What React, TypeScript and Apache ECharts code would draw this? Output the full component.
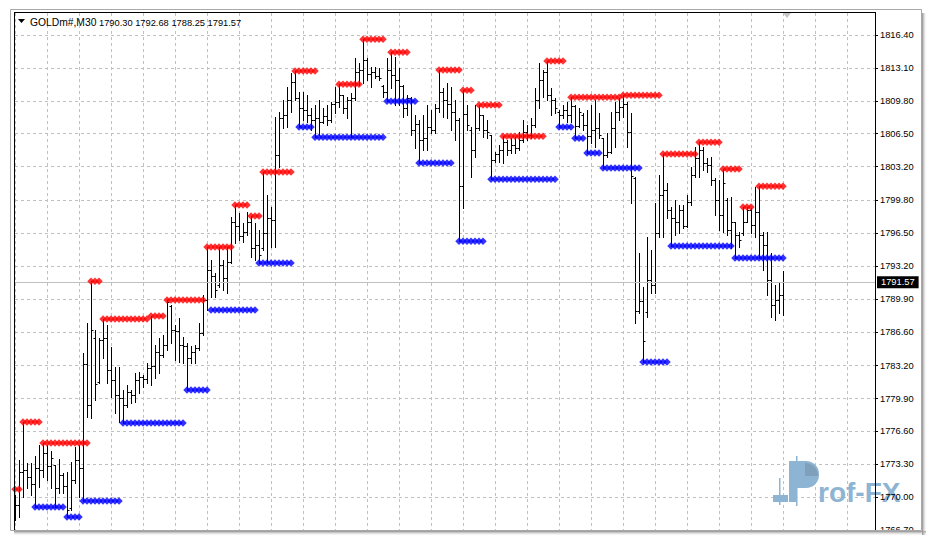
import React, { useEffect, useRef } from 'react';
import * as echarts from 'echarts';

const SYMBOL = 'GOLDm#,M30';

const OPEN = [
  1768.71, 1769.21, 1772.53, 1772.73, 1772.01, 1771.31, 1772.93, 1772.73, 1774.43, 1773.13,
  1773.23, 1770.91, 1772.21, 1771.11, 1768.91, 1771.71, 1773.73, 1772.93, 1783.37, 1779.25,
  1785.97, 1781.55, 1785.77, 1785.97, 1782.77, 1781.75, 1780.25, 1779.95, 1779.25, 1780.55,
  1780.25, 1781.75, 1782.05, 1781.85, 1782.97, 1783.17, 1784.57, 1784.27, 1785.27, 1789.19,
  1786.77, 1786.67, 1785.27, 1785.17, 1783.97, 1784.57, 1784.97, 1786.47, 1789.79, 1792.81,
  1792.19, 1791.29, 1793.31, 1792.01, 1793.61, 1797.63, 1797.21, 1796.21, 1796.61, 1797.63,
  1795.01, 1795.31, 1795.01, 1796.51, 1798.03, 1797.83, 1804.35, 1808.07, 1808.37, 1809.87,
  1811.69, 1810.07, 1809.07, 1808.87, 1808.37, 1807.87, 1808.07, 1807.67, 1808.27, 1807.87,
  1809.47, 1809.67, 1810.37, 1809.07, 1809.87, 1810.07, 1812.69, 1812.89, 1813.89, 1812.49,
  1812.69, 1812.27, 1811.27, 1810.67, 1812.89, 1812.37, 1811.87, 1811.27, 1809.07, 1810.07,
  1806.85, 1807.47, 1805.85, 1806.05, 1807.15, 1806.85, 1809.07, 1810.67, 1809.87, 1809.47,
  1808.67, 1807.87, 1801.23, 1808.47, 1806.85, 1804.85, 1807.05, 1808.37, 1806.85, 1806.35,
  1803.85, 1804.45, 1804.85, 1805.65, 1804.85, 1805.35, 1805.05, 1805.85, 1806.65, 1806.35,
  1807.35, 1809.87, 1811.87, 1812.69, 1810.37, 1809.87, 1808.67, 1808.37, 1808.87, 1808.37,
  1809.27, 1807.27, 1808.37, 1807.37, 1806.25, 1806.85, 1807.05, 1806.05, 1804.35, 1804.65,
  1807.05, 1808.67, 1809.17, 1809.47, 1806.65, 1802.03, 1788.69, 1789.69, 1788.59, 1791.81,
  1791.29, 1796.51, 1800.33, 1800.83, 1798.83, 1798.03, 1797.63, 1798.83, 1797.21, 1799.63,
  1802.33, 1804.05, 1804.85, 1803.55, 1803.35, 1801.83, 1799.83, 1798.33, 1799.83, 1796.81,
  1797.63, 1796.31, 1796.51, 1797.63, 1798.83, 1797.33, 1798.63, 1796.31, 1795.31, 1791.81,
  1789.29, 1789.79, 1790.30,
];

const HIGH = [
  1770.21, 1773.73, 1777.55, 1773.43, 1773.43, 1774.13, 1775.23, 1775.43, 1775.23, 1774.63,
  1773.23, 1773.83, 1772.43, 1772.53, 1773.53, 1775.03, 1775.23, 1784.47, 1787.49, 1791.69,
  1786.77, 1785.97, 1787.89, 1787.29, 1785.07, 1783.07, 1783.07, 1780.75, 1781.25, 1780.75,
  1782.47, 1782.57, 1782.25, 1783.47, 1788.19, 1785.27, 1785.97, 1786.27, 1789.79, 1789.29,
  1787.27, 1787.99, 1786.07, 1785.47, 1785.17, 1785.27, 1787.49, 1790.29, 1795.11, 1793.81,
  1792.51, 1795.11, 1793.81, 1795.11, 1798.13, 1799.33, 1798.53, 1797.53, 1798.63, 1798.23,
  1797.53, 1796.83, 1802.65, 1800.33, 1799.13, 1808.17, 1808.67, 1809.87, 1811.17, 1812.59,
  1812.79, 1810.67, 1810.67, 1810.37, 1809.07, 1809.37, 1809.87, 1809.07, 1809.37, 1809.67,
  1811.17, 1811.47, 1810.37, 1810.17, 1810.57, 1814.09, 1813.59, 1815.99, 1814.09, 1813.19,
  1813.19, 1813.09, 1811.37, 1814.09, 1814.69, 1814.19, 1813.09, 1811.37, 1810.37, 1810.17,
  1808.37, 1807.87, 1808.37, 1809.37, 1808.87, 1809.47, 1812.89, 1811.07, 1811.57, 1811.17,
  1809.87, 1808.07, 1810.87, 1809.37, 1807.15, 1809.37, 1809.37, 1808.37, 1807.87, 1806.35,
  1804.65, 1805.35, 1806.25, 1805.85, 1806.05, 1806.15, 1806.65, 1807.87, 1807.37, 1808.07,
  1811.07, 1813.59, 1812.89, 1813.79, 1811.07, 1810.07, 1808.87, 1809.37, 1809.67, 1810.17,
  1809.37, 1809.07, 1808.57, 1808.87, 1809.37, 1809.87, 1808.57, 1806.05, 1806.55, 1808.67,
  1809.67, 1810.07, 1810.37, 1809.67, 1808.57, 1802.13, 1794.51, 1791.09, 1796.11, 1794.81,
  1799.53, 1802.33, 1804.45, 1801.53, 1799.13, 1799.83, 1799.33, 1799.33, 1800.33, 1803.15,
  1805.15, 1805.65, 1805.15, 1804.05, 1804.15, 1802.03, 1801.83, 1802.95, 1800.03, 1800.13,
  1797.63, 1796.61, 1799.13, 1799.13, 1799.03, 1801.13, 1801.23, 1796.61, 1796.61, 1794.51,
  1791.29, 1791.49, 1792.68,
];

const LOW = [
  1767.71, 1768.01, 1770.01, 1770.91, 1770.21, 1769.01, 1771.01, 1772.01, 1771.71, 1770.91,
  1769.01, 1770.41, 1770.41, 1768.01, 1768.71, 1771.41, 1770.01, 1769.61, 1778.05, 1777.95,
  1779.75, 1781.45, 1783.97, 1781.45, 1780.05, 1778.45, 1777.55, 1777.45, 1779.05, 1779.45,
  1779.55, 1780.45, 1781.05, 1781.45, 1781.25, 1781.95, 1782.47, 1784.07, 1784.77, 1785.47,
  1783.77, 1783.57, 1783.47, 1780.75, 1783.47, 1783.47, 1784.77, 1786.27, 1788.79, 1790.09,
  1790.09, 1791.09, 1790.79, 1790.49, 1793.51, 1795.51, 1795.81, 1795.61, 1796.31, 1794.11,
  1793.81, 1793.51, 1794.81, 1793.61, 1795.11, 1795.11, 1803.15, 1807.07, 1807.17, 1808.67,
  1809.87, 1807.17, 1807.87, 1807.67, 1806.85, 1806.15, 1806.35, 1807.57, 1807.35, 1807.67,
  1808.57, 1809.17, 1808.57, 1808.07, 1806.15, 1809.87, 1811.37, 1811.57, 1811.87, 1811.17,
  1812.07, 1811.87, 1810.17, 1809.77, 1811.07, 1809.37, 1809.37, 1808.17, 1808.37, 1806.35,
  1805.05, 1803.55, 1804.85, 1804.85, 1806.55, 1806.55, 1808.67, 1808.17, 1808.07, 1806.85,
  1805.85, 1795.71, 1799.03, 1806.85, 1802.13, 1804.15, 1806.85, 1806.15, 1806.05, 1801.93,
  1803.65, 1803.65, 1803.55, 1804.35, 1804.55, 1804.55, 1804.85, 1805.65, 1805.85, 1806.05,
  1807.17, 1809.07, 1810.17, 1809.87, 1808.37, 1808.57, 1807.17, 1808.07, 1807.67, 1807.67,
  1806.05, 1807.17, 1806.85, 1804.55, 1805.55, 1805.15, 1806.05, 1803.05, 1804.15, 1804.55,
  1805.15, 1807.87, 1808.17, 1805.15, 1799.53, 1787.49, 1788.49, 1783.57, 1788.09, 1790.49,
  1790.49, 1796.11, 1796.11, 1798.03, 1795.21, 1796.31, 1796.51, 1797.01, 1797.11, 1799.33,
  1802.13, 1802.13, 1802.85, 1802.65, 1801.33, 1798.33, 1796.83, 1796.61, 1796.31, 1795.01,
  1794.01, 1795.11, 1796.31, 1797.63, 1796.51, 1796.11, 1794.01, 1792.81, 1790.29, 1788.09,
  1787.79, 1788.49, 1788.25,
];

const CLOSE = [
  1769.21, 1772.53, 1772.73, 1772.01, 1771.31, 1772.93, 1772.73, 1774.43, 1773.13, 1773.93,
  1770.91, 1772.21, 1771.11, 1768.71, 1771.71, 1773.73, 1772.93, 1783.37, 1779.25, 1786.77,
  1781.35, 1785.77, 1785.97, 1782.77, 1781.75, 1780.25, 1779.95, 1779.25, 1780.55, 1780.25,
  1781.75, 1782.05, 1781.85, 1782.97, 1783.17, 1784.57, 1784.27, 1785.27, 1789.59, 1786.77,
  1786.67, 1785.27, 1785.17, 1783.97, 1784.57, 1784.97, 1786.47, 1789.79, 1792.81, 1792.19,
  1790.79, 1793.31, 1792.01, 1793.61, 1797.63, 1797.21, 1796.21, 1796.61, 1797.63, 1795.01,
  1795.31, 1794.31, 1796.51, 1798.03, 1797.83, 1804.35, 1808.07, 1808.37, 1809.87, 1811.69,
  1810.07, 1809.07, 1808.87, 1808.37, 1807.87, 1808.07, 1807.67, 1808.27, 1807.87, 1809.47,
  1809.67, 1810.37, 1809.07, 1809.87, 1810.07, 1812.69, 1812.89, 1813.89, 1812.49, 1812.69,
  1812.27, 1812.07, 1810.67, 1812.89, 1812.37, 1811.87, 1811.27, 1809.07, 1810.07, 1806.85,
  1807.47, 1805.85, 1806.05, 1807.15, 1806.85, 1809.07, 1810.67, 1809.87, 1809.47, 1808.67,
  1807.87, 1801.23, 1808.47, 1807.37, 1804.85, 1807.05, 1808.37, 1806.85, 1806.65, 1803.85,
  1804.45, 1804.85, 1805.65, 1804.85, 1805.35, 1805.05, 1805.85, 1806.65, 1806.35, 1807.35,
  1809.87, 1811.87, 1812.69, 1810.37, 1809.87, 1809.07, 1808.37, 1808.87, 1808.37, 1809.27,
  1807.27, 1808.67, 1807.37, 1806.25, 1806.85, 1807.05, 1806.35, 1804.35, 1804.65, 1807.05,
  1808.67, 1809.17, 1809.47, 1806.65, 1802.25, 1788.69, 1789.69, 1785.67, 1791.81, 1791.29,
  1796.51, 1800.33, 1800.83, 1798.83, 1798.03, 1797.63, 1798.83, 1797.21, 1799.63, 1802.35,
  1804.05, 1804.85, 1803.55, 1803.35, 1801.83, 1799.83, 1798.33, 1801.53, 1796.81, 1797.63,
  1796.31, 1795.81, 1797.63, 1798.83, 1797.33, 1798.63, 1796.31, 1795.31, 1791.81, 1789.29,
  1789.79, 1790.29, 1791.57,
];

// Resistance (red) levels: start bar, end bar, price
const RED_START = [0, 2, 7, 19, 22, 34, 38, 48, 55, 59, 62, 70, 81, 87, 94, 106, 112, 116, 122, 133, 139, 152, 162, 171, 177, 182, 186];
const RED_END = [1, 6, 18, 21, 33, 37, 47, 54, 58, 61, 69, 75, 86, 92, 98, 111, 114, 121, 132, 137, 151, 161, 170, 176, 181, 184, 192];
const RED_LEVEL = [1770.78, 1777.55, 1775.43, 1791.69, 1787.89, 1788.19, 1789.79, 1795.11, 1799.33, 1798.23, 1802.65, 1812.79, 1811.47, 1815.99, 1814.69, 1812.89, 1810.87, 1809.37, 1806.25, 1813.79, 1810.17, 1810.37, 1804.45, 1805.65, 1802.95, 1799.13, 1801.23];

// Support (blue) levels
const BLUE_START = [5, 13, 17, 27, 43, 49, 61, 71, 75, 93, 101, 111, 119, 136, 140, 143, 147, 157, 164, 180];
const BLUE_END = [12, 16, 26, 42, 48, 60, 69, 74, 92, 100, 109, 117, 135, 139, 142, 146, 156, 163, 179, 192];
const BLUE_LEVEL = [1769.01, 1768.01, 1769.61, 1777.45, 1780.75, 1788.79, 1793.51, 1807.17, 1806.15, 1809.77, 1803.55, 1795.71, 1801.93, 1807.17, 1806.05, 1804.55, 1803.05, 1783.57, 1795.21, 1794.01];

const PRICE_TICKS = [1766.7, 1770.0, 1773.3, 1776.6, 1779.9, 1783.2, 1786.6, 1789.9, 1793.2, 1796.5, 1799.8, 1803.2, 1806.5, 1809.8, 1813.1, 1816.4];

const FONT = 'Liberation Sans';

function levelPoints(starts: number[], ends: number[], levels: number[]) {
  const pts: number[][] = [];
  starts.forEach((s, j) => {
    for (let k = s; k <= ends[j]; k++) pts.push([k, levels[j]]);
  });
  return pts;
}

export default function App() {
  const ref = useRef<HTMLDivElement>(null);

  useEffect(() => {
    if (!ref.current) return;
    const chart = echarts.init(ref.current, undefined, { renderer: 'svg' });
    const last = OPEN.length - 1;
    const lastPrice = CLOSE[last];
    const bars = OPEN.map((o, i) => [i, o, HIGH[i], LOW[i], CLOSE[i]]);
    const titleOhlc = [OPEN[last], HIGH[last], LOW[last], CLOSE[last]].map((v) => v.toFixed(2)).join(' ');

    const gridColor = '#c0c0c0';
    const dash = [3, 3];
    const wm = '#8db4d3';
    const yMin = 1766.7;
    const yMax = 1818.62;

    const option: any = {
      animation: false,
      backgroundColor: '#ffffff',
      grid: { left: 15, right: 59, top: 13, bottom: 12, show: false },
      xAxis: {
        type: 'value',
        min: 0,
        max: 215,
        interval: 8,
        axisLine: { show: false },
        axisTick: { show: false },
        axisLabel: { show: false },
        splitLine: { show: true, lineStyle: { color: gridColor, type: dash, width: 1 } },
      },
      yAxis: [
        {
          // grid lines only
          type: 'value',
          position: 'right',
          min: yMin,
          max: yMax,
          axisLine: { show: false },
          axisTick: { show: false, customValues: PRICE_TICKS },
          axisLabel: { show: false, customValues: PRICE_TICKS },
          splitLine: { show: true, lineStyle: { color: gridColor, type: dash, width: 1 } },
        },
        {
          // price scale drawn above the watermark
          type: 'value',
          position: 'right',
          min: yMin,
          max: yMax,
          z: 60,
          axisLine: { show: true, onZero: false, lineStyle: { color: '#000', width: 1 } },
          axisTick: { show: true, length: 3, customValues: PRICE_TICKS, lineStyle: { color: '#000' } },
          axisLabel: {
            customValues: PRICE_TICKS,
            formatter: (v: number) => v.toFixed(2),
            color: '#000',
            fontSize: 9.3,
            fontFamily: FONT,
            margin: 5,
          },
          splitLine: { show: false },
        },
      ],
      series: [
        {
          type: 'custom',
          name: 'bars',
          yAxisIndex: 0,
          data: bars,
          encode: { x: 0, y: [1, 2, 3, 4] },
          clip: true,
          silent: true,
          z: 3,
          renderItem: (params: any, api: any) => {
            const k = api.value(0);
            const o = api.coord([k, api.value(1)]);
            const h = api.coord([k, api.value(2)]);
            const l = api.coord([k, api.value(3)]);
            const c = api.coord([k, api.value(4)]);
            const xi = Math.round(h[0]);
            const x = xi + 0.5;
            const yo = Math.round(o[1]) + 0.5;
            const yc = Math.round(c[1]) + 0.5;
            const st = { stroke: '#000', lineWidth: 1 };
            return {
              type: 'group',
              children: [
                { type: 'line', shape: { x1: x, y1: Math.round(h[1]), x2: x, y2: Math.round(l[1]) + 1 }, style: st },
                { type: 'line', shape: { x1: xi - 1.5, y1: yo, x2: x, y2: yo }, style: st },
                { type: 'line', shape: { x1: x, y1: yc, x2: xi + 2.5, y2: yc }, style: st },
              ],
            };
          },
          markLine: {
            silent: true,
            symbol: ['none', 'none'],
            data: [{ yAxis: lastPrice }],
            lineStyle: { color: '#c0c0c0', type: 'solid', width: 1 },
            label: {
              show: true,
              position: 'end',
              distance: 2,
              formatter: lastPrice.toFixed(2),
              color: '#fff',
              backgroundColor: '#000',
              padding: [2, 4, 1, 4],
              fontSize: 9.3,
              fontFamily: FONT,
            },
          },
        },
        {
          type: 'scatter',
          name: 'resistance',
          yAxisIndex: 0,
          data: levelPoints(RED_START, RED_END, RED_LEVEL),
          symbol: 'diamond',
          symbolSize: [7.5, 7.5],
          itemStyle: { color: '#ff0000' },
          silent: true,
          z: 5,
        },
        {
          type: 'scatter',
          name: 'support',
          yAxisIndex: 0,
          data: levelPoints(BLUE_START, BLUE_END, BLUE_LEVEL),
          symbol: 'diamond',
          symbolSize: [7.5, 7.5],
          itemStyle: { color: '#0000ff' },
          silent: true,
          z: 5,
        },
      ],
      graphic: [
        // plot frame
        { type: 'line', silent: true, z: 20, shape: { x1: 14.5, y1: 12, x2: 14.5, y2: 530 }, style: { stroke: '#000', lineWidth: 1 } },
        { type: 'line', silent: true, z: 20, shape: { x1: 14, y1: 12.5, x2: 876, y2: 12.5 }, style: { stroke: '#000', lineWidth: 1 } },
        // chart shift marker
        { type: 'polygon', silent: true, z: 20, shape: { points: [[783, 13], [791, 13], [787, 18]] }, style: { fill: '#c4c4c4' } },
        // title
        { type: 'polygon', silent: true, z: 20, shape: { points: [[18, 19], [25, 19], [21.5, 23]] }, style: { fill: '#000' } },
        { type: 'text', silent: true, z: 20, x: 30, y: 22.5, style: { text: SYMBOL, fill: '#000', font: `10.3px "${FONT}"`, textVerticalAlign: 'middle' } },
        { type: 'text', silent: true, z: 20, x: 99, y: 22.5, style: { text: titleOhlc, fill: '#000', font: `9.3px "${FONT}"`, textVerticalAlign: 'middle' } },
        // watermark
        { type: 'rect', silent: true, z: 50, shape: { x: 773, y: 495, width: 15, height: 7 }, style: { fill: wm } },
        { type: 'rect', silent: true, z: 50, shape: { x: 779, y: 478, width: 1.5, height: 27 }, style: { fill: wm } },
        { type: 'rect', silent: true, z: 50, shape: { x: 796, y: 456, width: 1.5, height: 50 }, style: { fill: wm } },
        { type: 'rect', silent: true, z: 50, shape: { x: 789, y: 461, width: 30, height: 27, r: [0, 13, 13, 0] }, style: { fill: wm } },
        { type: 'rect', silent: true, z: 50, shape: { x: 789, y: 461, width: 8, height: 41 }, style: { fill: wm } },
        { type: 'sector', silent: true, z: 51, shape: { cx: 805, cy: 476, r0: 0, r: 13, startAngle: -Math.PI / 2, endAngle: 0, clockwise: true }, style: { fill: '#7f9fba' } },
        { type: 'text', silent: true, z: 50, x: 818, y: 492, style: { text: 'rof-FX', fill: wm, font: `bold 28px "${FONT}"`, textVerticalAlign: 'middle' } },
        // bottom cover + window frame with shadow
        { type: 'rect', silent: true, z: 100, shape: { x: 0, y: 531, width: 934, height: 11 }, style: { fill: '#fff' } },
        {
          type: 'rect', silent: true, z: 101, shape: { x: 14, y: 531, width: 912, height: 5 },
          style: { fill: new echarts.graphic.LinearGradient(0, 0, 0, 1, [{ offset: 0, color: '#8c8c8c' }, { offset: 1, color: 'rgba(255,255,255,0)' }]) },
        },
        {
          type: 'rect', silent: true, z: 101, shape: { x: 922, y: 13, width: 5, height: 522 },
          style: { fill: new echarts.graphic.LinearGradient(0, 0, 1, 0, [{ offset: 0, color: '#8c8c8c' }, { offset: 1, color: 'rgba(255,255,255,0)' }]) },
        },
        { type: 'rect', silent: true, z: 102, shape: { x: 10.5, y: 9.5, width: 911, height: 521 }, style: { fill: 'none', stroke: '#a8a8a8', lineWidth: 1 } },
      ],
    };

    chart.setOption(option);
    return () => chart.dispose();
  }, []);

  return <div ref={ref} style={{ position: 'absolute', left: 0, top: 0, width: 934, height: 542 }} />;
}
